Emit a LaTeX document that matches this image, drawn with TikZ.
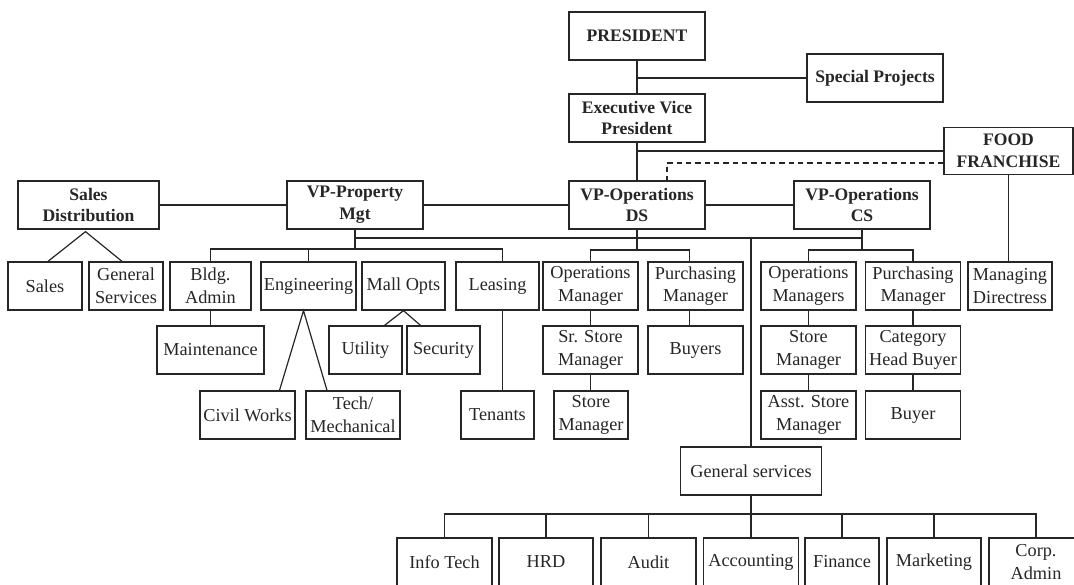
\documentclass[tikz,border=0pt]{standalone}
\usepackage{fontspec}
\setmainfont{Liberation Serif}
\usetikzlibrary{calc}
\definecolor{ink}{RGB}{38,38,38}
\tikzset{
  box/.style={draw=ink, line width=0.95pt, fill=white, inner sep=0pt, align=center,
    text=ink, font=\fontsize{13.7}{16.9}\selectfont},
  head/.style={box, font=\fontsize{13.2}{16.3}\selectfont\bfseries},
  sz/.style 2 args={minimum width={0.75pt*#1}, minimum height={0.75pt*#2}},
  link/.style={draw=ink, line width=0.9pt},
}
\begin{document}
\begin{tikzpicture}[x=0.75pt, y=-0.75pt]
\fill[white] (0,0) rectangle (1074,585);
\useasboundingbox (0,0) rectangle (1074,585);
\clip (0,0) rectangle (1074,585);

% --- top management ---
\node[head, sz={136}{48}] (pres)   at (637,36)    {PRESIDENT};
\node[head, sz={136}{48}] (spec)   at (875,78)    {Special Projects};
\node[head, sz={136}{48}] (evp)    at (637,118)   {Executive Vice\\President};
\node[head, sz={129}{47}] (ff)     at (1008.5,151){FOOD\\FRANCHISE};
\node[head, sz={141}{48}] (salesd) at (88.5,205)  {Sales\\Distribution};
\node[head, sz={136}{48}] (vpprop) at (355,205)   {VP-Property\\Mgt};
\node[head, sz={136}{48}] (ds)     at (637,205)   {VP-Operations\\DS};
\node[head, sz={136}{48}] (cs)     at (862,205)   {VP-Operations\\CS};

% --- first level of departments ---
\node[box, sz={74}{48}] (sales)   at (45,286)    {Sales};
\node[box, sz={74}{48}] (gensvc)  at (126,286)   {General\\Services};
\node[box, sz={81}{48}] (bldg)    at (210.5,286) {Bldg.\\Admin};
\node[box, sz={95}{48}] (eng)     at (308.5,286) {Engineering};
\node[box, sz={83}{48}] (mall)    at (403.5,286) {Mall Opts};
\node[box, sz={83}{48}] (leasing) at (497.5,286) {Leasing};
\node[box, sz={95}{48}] (opsds)   at (590.5,286) {Operations\\Manager};
\node[box, sz={95}{48}] (purds)   at (695.5,286) {Purchasing\\Manager};
\node[box, sz={95}{48}] (opscs)   at (808.5,286) {Operations\\Managers};
\node[box, sz={95}{48}] (purcs)   at (913,286)   {Purchasing\\Manager};
\node[box, sz={84}{48}] (md)      at (1010,286)  {Managing\\Directress};

% --- second level ---
\node[box, sz={107}{48}] (maint)  at (210.5,350) {Maintenance};
\node[box, sz={73}{48}]  (util)   at (365.5,350) {Utility};
\node[box, sz={73}{48}]  (sec)    at (443.5,350) {Security};
\node[box, sz={95}{48}]  (srsm)   at (590.5,350) {Sr. Store\\Manager};
\node[box, sz={95}{48}]  (buyers) at (695.5,350) {Buyers};
\node[box, sz={95}{48}]  (smcs)   at (808.5,350) {Store\\Manager};
\node[box, sz={95}{48}]  (chb)    at (913,350)   {Category\\Head Buyer};

% --- third level ---
\node[box, sz={95}{48}] (civil)   at (247.5,415) {Civil Works};
\node[box, sz={94}{48}] (tech)    at (353,415)   {Tech/\\Mechanical};
\node[box, sz={73}{48}] (tenants) at (497.5,415) {Tenants};
\node[box, sz={74}{48}] (smds)    at (591,415)   {Store\\Manager};
\node[box, sz={95}{48}] (asm)     at (808.5,415) {Asst. Store\\Manager};
\node[box, sz={95}{48}] (buyer)   at (913,415)   {Buyer};

% --- general services and its units ---
\node[box, sz={141}{48}] (gs)    at (751,471)   {General services};
\node[box, sz={95}{48}]  (info)  at (444.5,562) {Info Tech};
\node[box, sz={94}{48}]  (hrd)   at (546,562)   {HRD};
\node[box, sz={95}{48}]  (audit) at (648.5,562) {Audit};
\node[box, sz={95}{48}]  (acct)  at (751,562)   {Accounting};
\node[box, sz={74}{48}]  (fin)   at (842,562)   {Finance};
\node[box, sz={94}{48}]  (mkt)   at (934,562)   {Marketing};
\node[box, sz={94}{48}]  (corp)  at (1036,562)  {Corp.\\Admin};

% --- junction points ---
\coordinate (spine)  at (0,238);
\coordinate (pbar)   at (0,249);
\coordinate (obar)   at (0,250);
\coordinate (gbar)   at (0,514);
\coordinate (lease)  at ($(leasing.north)+(5,0)$);
\coordinate (purch)  at ($(purds.north)+(-6,0)$);

% --- top connectors ---
\draw[link] (pres.south) -- (evp.north);
\draw[link] (spec.west) -- (spec.west -| pres.south);
\draw[link] (evp.south) -- (ds.north);
\draw[link] (ff.west) -- (ff.west -| evp.south);
\draw[link, dashed, dash pattern=on 4pt off 3pt]
  ($(ff.west)+(0,12)$) -| ($(ds.north)+(30,0)$);
\draw[link] (salesd.east) -- (vpprop.west);
\draw[link] (vpprop.east) -- (ds.west);
\draw[link] (ds.east) -- (cs.west);
\draw[link] (vpprop.south |- spine) -- (cs.south |- spine);
\draw[link] (ff.south) -- (ff.south |- md.north);

% --- sales distribution ---
\draw[link] ($(sales.north)+(3,0)$) -- ($(salesd.south)+(-3,2)$) -- ($(gensvc.north)+(-4,0)$);

% --- property management ---
\draw[link] (vpprop.south) -- (vpprop.south |- pbar);
\draw[link] (bldg.north) |- (lease |- pbar) -- (lease);
\draw[link] (eng.north) -- (eng.north |- pbar);
\draw[link] (bldg.south) -- (maint.north);
\draw[link] ($(civil.north)+(32,0)$) -- ($(eng.south)+(-5,0)$) -- ($(tech.north)+(-26,0)$);
\draw[link] ($(util.north)+(19,0)$) -- (mall.south) -- ($(sec.north)+(-23,0)$);
\draw[link] (lease |- leasing.south) -- (lease |- tenants.north);

% --- operations DS ---
\draw[link] (ds.south) -- (ds.south |- obar);
\draw[link] (opsds.north) |- (purch |- obar) -- (purch);
\draw[link] (opsds.south) -- (srsm.north);
\draw[link] (srsm.south) -- (srsm.south |- smds.north);
\draw[link] (purch |- purds.south) -- (purch |- buyers.north);

% --- operations CS ---
\draw[link] (cs.south) -- (cs.south |- obar);
\draw[link] (opscs.north) |- (purcs.north |- obar) -- (purcs.north);
\draw[link] (opscs.south) -- (smcs.north);
\draw[link] (smcs.south) -- (asm.north);
\draw[link] (purcs.south) -- (chb.north);
\draw[link] (chb.south) -- (buyer.north);

% --- general services ---
\draw[link] (gs.north |- spine) -- (gs.north);
\draw[link] (gs.south) -- (acct.north);
\draw[link] (info.north) |- (corp.north |- gbar) -- (corp.north);
\foreach \u in {hrd,audit,fin,mkt}
  \draw[link] (\u.north) -- (\u.north |- gbar);
\end{tikzpicture}
\end{document}
